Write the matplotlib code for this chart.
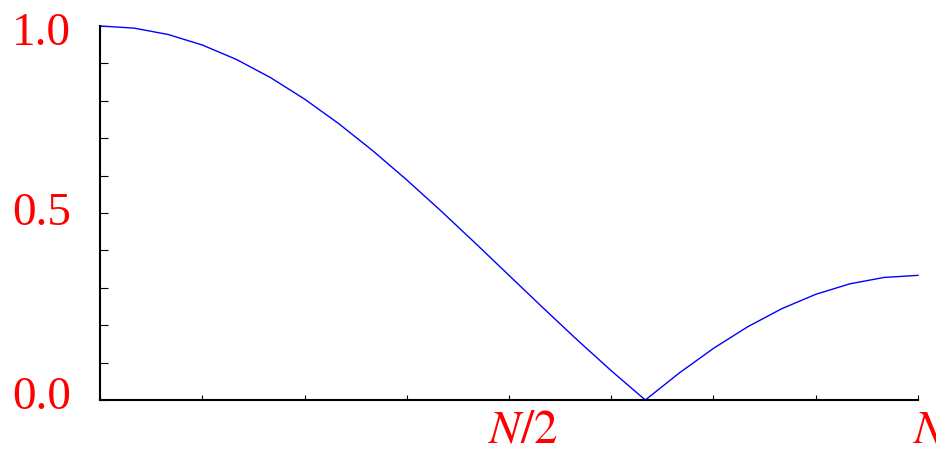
import numpy as np
import matplotlib
matplotlib.use("Agg")
import matplotlib.pyplot as plt
from matplotlib.transforms import ScaledTranslation

# Normalised response sampled at x = k/24 of the full period N
x_frac = [k / 24 for k in range(25)]
response = [1.0000, 0.9943, 0.9773, 0.9492, 0.9107, 0.8622, 0.8047, 0.7392,
            0.6667, 0.5885, 0.5059, 0.4204, 0.3333, 0.2463, 0.1608, 0.0782,
            0.0000, 0.0725, 0.1381, 0.1956, 0.2440, 0.2826, 0.3106, 0.3276,
            0.3333]

y_major = [0.0, 0.5, 1.0]
y_major_labels = ["0.0", "0.5", "1.0"]
x_major = [0.5, 1.0]
x_major_labels = [r"$N/2$", r"$N$"]

plt.rcParams["mathtext.fontset"] = "stix"
plt.rcParams["font.family"] = ["Liberation Serif", "DejaVu Serif"]

W, H = 937, 451
fig = plt.figure(figsize=(W / 100, H / 100), dpi=100)
left, right, bottom, top = 100, 918, 400, 26
ax = fig.add_axes([left / W, (H - bottom) / H, (right - left) / W, (bottom - top) / H])

ax.plot(x_frac, response, color=(0, 0, 1), lw=1.0, clip_on=False)

ax.set_xlim(0, 1)
ax.set_ylim(0, 1)
for s in ("top", "right"):
    ax.spines[s].set_visible(False)
for s in ("left", "bottom"):
    ax.spines[s].set_linewidth(1.5)

ax.set_yticks(y_major)
ax.set_yticklabels(y_major_labels)
ax.set_yticks(np.arange(0, 1.01, 0.1), minor=True)
ax.set_xticks(x_major)
ax.set_xticklabels(x_major_labels)
ax.set_xticks(np.arange(0, 1.01, 0.125), minor=True)

ax.tick_params(axis="y", which="both", direction="in", length=6, width=0.8,
               pad=21, labelsize=34, labelcolor="red")
ax.tick_params(axis="x", which="both", direction="in", length=3.3, width=0.8,
               pad=7, labelsize=34, labelcolor="red")

shift = ScaledTranslation(0.14, 0, fig.dpi_scale_trans)
for lbl in ax.get_xticklabels():
    lbl.set_transform(lbl.get_transform() + shift)

# small vertical nudges of the y labels (inches)
y_nudge = [0.07, 0.04, -0.025]
for lbl, dy in zip(ax.get_yticklabels(), y_nudge):
    lbl.set_transform(lbl.get_transform() + ScaledTranslation(0, dy, fig.dpi_scale_trans))

fig.savefig("out.png", dpi=100)
